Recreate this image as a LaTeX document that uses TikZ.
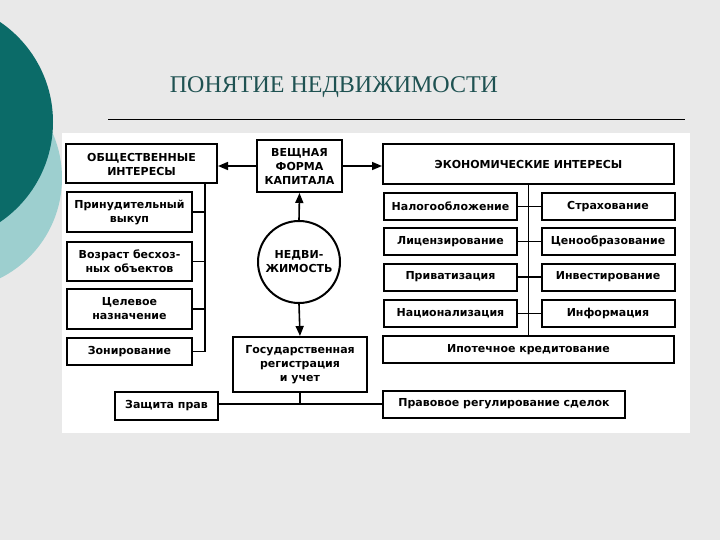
\documentclass[tikz,border=0pt]{standalone}
\usepackage{fontspec}
\setmainfont{Liberation Serif}
\newfontfamily\schemefont{DejaVu Sans}
\usepackage{xcolor}
\definecolor{slideGray}{HTML}{E9E9E9}
\definecolor{tealDark}{HTML}{0B6B68}
\definecolor{tealLight}{HTML}{9DCFCF}
\definecolor{titleTeal}{HTML}{1F5252}
\usetikzlibrary{arrows.meta}

\tikzset{
  box/.style={draw, line width=2pt, fill=white, align=center, inner sep=0pt,
    font=\schemefont\bfseries\fontsize{11}{14}\selectfont},
  lbox/.style={box, minimum width=125pt},
  ebox/.style={box, minimum width=133pt, minimum height=27pt},
  link/.style={line width=1.6pt},
  pointer/.style={line width=1.6pt, -{Triangle[length=10pt,width=8pt]}},
}

\begin{document}
\begin{tikzpicture}[x=1pt,y=-1pt]
  \useasboundingbox (0,0) rectangle (720,540);
  \clip (0,0) rectangle (720,540);
  % slide background
  \fill[slideGray] (0,0) rectangle (720,540);
  \fill[tealLight] (-50,178) circle (112pt);
  \fill[tealDark] (-68,122) circle (121pt);
  \node[font=\fontsize{24}{28}\selectfont, text=titleTeal, anchor=base] (title) at (334,93) {ПОНЯТИЕ НЕДВИЖИМОСТИ};
  \draw[line width=1pt] (108,120) -- (685,120);
  \fill[white] (62,133) rectangle (690,433);

  % centre
  \node[box, minimum width=85pt, minimum height=52pt] (veshch) at (299.5,166) {ВЕЩНАЯ\\ФОРМА\\КАПИТАЛА};
  \node[box, circle, minimum size=82pt] (nedv) at (299,262) {НЕДВИ-\\ЖИМОСТЬ};
  \node[box, minimum width=134pt, minimum height=55pt] (gosreg) at (300,364.5) {Государственная\\регистрация\\и учет};

  % public interests
  \node[box, minimum width=151pt, minimum height=39pt] (obsh) at (141.5,164) {ОБЩЕСТВЕННЫЕ\\ИНТЕРЕСЫ};
  \node[lbox, minimum height=40pt] (vykup) at (129.5,212) {Принудительный\\выкуп};
  \node[lbox, minimum height=39pt] (vozrast) at (129.5,261.5) {Возраст бесхоз-\\ных объектов};
  \node[lbox, minimum height=40pt] (tsel) at (129.5,309) {Целевое\\назначение};
  \node[lbox, minimum height=27pt] (zonir) at (129.5,351.5) {Зонирование};

  % economic interests
  \node[box, minimum width=291pt, minimum height=40pt] (econ) at (528.5,164) {ЭКОНОМИЧЕСКИЕ ИНТЕРЕСЫ};
  \node[ebox] (nalog) at (450.5,206.5) {Налогообложение};
  \node[ebox] (strakh) at (608,206.5) {Страхование};
  \node[ebox] (litsenz) at (450.5,241.5) {Лицензирование};
  \node[ebox] (tseno) at (608,241.5) {Ценообразование};
  \node[ebox] (privat) at (450.5,277) {Приватизация};
  \node[ebox] (invest) at (608,277) {Инвестирование};
  \node[ebox] (natsion) at (450.5,313.5) {Национализация};
  \node[ebox] (inform) at (608,313.5) {Информация};
  \node[box, minimum width=291pt, minimum height=27pt] (ipoteka) at (528.5,349.5) {Ипотечное кредитование};

  % law
  \node[box, minimum width=103pt, minimum height=28pt] (zashch) at (166.5,406) {Защита прав};
  \node[box, minimum width=242pt, minimum height=27pt] (pravo) at (504,404) {Правовое регулирование сделок};

  % arrows
  \draw[pointer] (veshch.west) -- (veshch.west -| obsh.east);
  \draw[pointer] (veshch.east) -- (veshch.east -| econ.west);
  \draw[pointer] (nedv.north) -- (veshch.south);
  \draw[pointer] (nedv.south) -- (gosreg.north);

  % left spine
  \coordinate (ltop) at (205,183.5);
  \coordinate (lbot) at (205,351.5);
  \draw[link] (ltop) -- (lbot);
  \draw[link] (vykup.east) -- (vykup.east -| ltop);
  \draw[link] (vozrast.east) -- (vozrast.east -| ltop);
  \draw[link] (tsel.east) -- (tsel.east -| ltop);
  \draw[link] (zonir.east) -- (zonir.east -| ltop);

  % right spine
  \draw[link] (econ.south) -- (ipoteka.north);
  \draw[link] (nalog.east) -- (strakh.west);
  \draw[link] (litsenz.east) -- (tseno.west);
  \draw[link] (privat.east) -- (invest.west);
  \draw[link] (natsion.east) -- (inform.west);

  % bottom line
  \draw[link] (zashch.east |- pravo.west) -- (pravo.west);
  \draw[link] (gosreg.south) -- (gosreg.south |- pravo.west);
\end{tikzpicture}
\end{document}
